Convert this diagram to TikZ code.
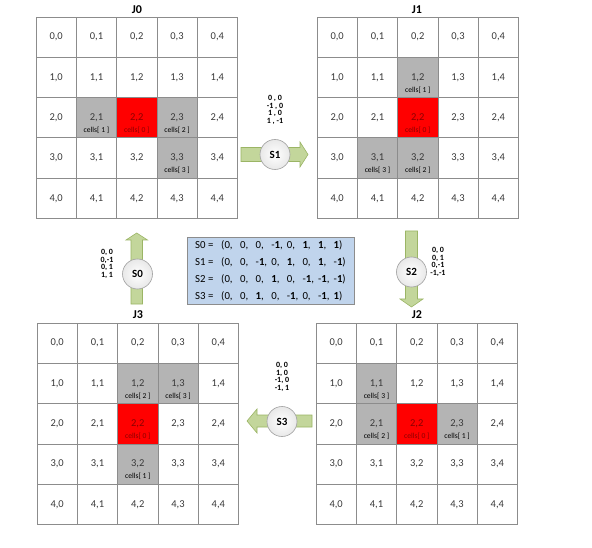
\documentclass[tikz,border=0pt]{standalone}
\usepackage{fontspec}
\setmainfont{Carlito}
\definecolor{gridline}{HTML}{8C8C8C}
\definecolor{shadec}{HTML}{B4B4B4}
\definecolor{redc}{HTML}{FF0000}
\definecolor{redtext}{HTML}{8B0000}
\definecolor{numtext}{HTML}{3A3A3A}
\definecolor{arrowfill}{HTML}{C3D69B}
\definecolor{arrowline}{HTML}{9BB565}
\definecolor{boxfill}{HTML}{C0D4EC}
\definecolor{boxline}{HTML}{8C8C8C}
\definecolor{circline}{HTML}{A0A0A0}
\newcommand\vb[1]{\makebox[15.6pt][l]{#1}}
\newcommand\one{\textbf{1}}
\newcommand\drawgrid[3]{%
  \foreach \r in {0,...,4}{\foreach \c in {0,...,4}{%
    \node[cellbox, sp/.expanded={#1-\r-\c}] (#1-\r-\c) at ({#2+20.15+40.3*\c},{#3+20.15+40.3*\r}) {\r,\c};
  }}}
\tikzset{
  cellbox/.style={draw=gridline, line width=0.8pt, minimum size=40.3pt, inner sep=0pt,
    font=\fontsize{10.5}{12}\selectfont, text=numtext},
  sp/.style={sp #1/.try},
  celllab/.style={font=\fontsize{7.6}{8}\selectfont, yshift=-12.5pt, inner sep=0pt},
  graycell/.style={fill=shadec, label={[celllab, text=black]center:{cells[ #1 ]}}},
  redcellst/.style={fill=redc, text=redtext, label={[celllab, text=redtext]center:{cells[ 0 ]}}},
  sp J0-2-2/.style={redcellst}, sp J0-2-1/.style={graycell=1}, sp J0-2-3/.style={graycell=2}, sp J0-3-3/.style={graycell=3},
  sp J1-2-2/.style={redcellst}, sp J1-1-2/.style={graycell=1}, sp J1-3-2/.style={graycell=2}, sp J1-3-1/.style={graycell=3},
  sp J2-2-2/.style={redcellst}, sp J2-2-3/.style={graycell=1}, sp J2-2-1/.style={graycell=2}, sp J2-1-1/.style={graycell=3},
  sp J3-2-2/.style={redcellst}, sp J3-3-2/.style={graycell=1}, sp J3-1-2/.style={graycell=2}, sp J3-1-3/.style={graycell=3},
  title/.style={font=\fontsize{12}{14}\selectfont\bfseries, inner sep=0pt},
  blockarrow/.style={fill=arrowfill, draw=arrowline, line width=0.6pt, line join=miter},
  statecirc/.style={circle, draw=circline, line width=0.6pt, inner color=white, outer color=gray!18,
    minimum size=30pt, inner sep=0pt, font=\fontsize{11}{12}\selectfont\bfseries},
  offs/.style={font=\fontsize{8}{7.8}\selectfont\bfseries, align=center, inner sep=0pt},
  vecbox/.style={draw=boxline, fill=boxfill, line width=0.6pt, minimum width=167pt, minimum height=67pt,
    inner sep=0pt, align=left, font=\fontsize{10.8}{17}\selectfont}
}
\begin{document}
\begin{tikzpicture}[x=1pt,y=-1pt]
\useasboundingbox (0,0) rectangle (592,548);
\fill[white] (0,0) rectangle (592,548);
% grids
\drawgrid{J0}{36}{17}
\drawgrid{J1}{317}{17}
\drawgrid{J3}{37}{323}
\drawgrid{J2}{316}{323}
% titles
\node[title] (t0) at (137,10) {J0};
\node[title] (t1) at (417,10) {J1};
\node[title] (t3) at (138,315) {J3};
\node[title] (t2) at (417,315) {J2};
% S1 arrow (right)
\draw[blockarrow] (241,147.5) -- (300,147.5) -- (300,142) -- (308,154.5) -- (300,167) -- (300,161.5) -- (241,161.5) -- cycle;
\node[statecirc] (S1) at (275,154.5) {S1};
\node[offs] (S1o) at (275,110) {0 , 0\\-1 , 0\\1 , 0\\1 , -1};
% S0 arrow (up)
\draw[blockarrow] (131,304) -- (131,240) -- (126,240) -- (136.7,233) -- (147.5,240) -- (142.5,240) -- (142.5,304) -- cycle;
\node[statecirc] (S0) at (137.5,274) {S0};
\node[offs] (S0o) at (107,264) {0, 0\\0,-1\\0, 1\\1, 1};
% S2 arrow (down)
\draw[blockarrow] (405.5,231) -- (417.5,231) -- (417.5,299) -- (423,299) -- (411.5,307) -- (400,299) -- (405.5,299) -- cycle;
\node[statecirc] (S2) at (411.5,272) {S2};
\node[offs] (S2o) at (438,262) {0, 0\\0, 1\\0,-1\\-1,-1};
% S3 arrow (left)
\draw[blockarrow] (312,415) -- (257,415) -- (257,409) -- (247,421) -- (257,433) -- (257,427) -- (312,427) -- cycle;
\node[statecirc] (S3) at (282,421.5) {S3};
\node[offs] (S3o) at (282,377) {0, 0\\1, 0\\-1, 0\\-1, 1};
% vector box
\node[vecbox] (vec) at (270.5,270.5) {%
\makebox[26pt][l]{S0 =}(\vb{0,}\vb{0,}\vb{0,}\vb{-\one,}\vb{0,}\vb{\one,}\vb{\one,}\one)\\
\makebox[26pt][l]{S1 =}(\vb{0,}\vb{0,}\vb{-\one,}\vb{0,}\vb{\one,}\vb{0,}\vb{\one,}-\one)\\
\makebox[26pt][l]{S2 =}(\vb{0,}\vb{0,}\vb{0,}\vb{\one,}\vb{0,}\vb{-\one,}\vb{-\one,}-\one)\\
\makebox[26pt][l]{S3 =}(\vb{0,}\vb{0,}\vb{\one,}\vb{0,}\vb{-\one,}\vb{0,}\vb{-\one,}\one)};
\end{tikzpicture}
\end{document}
